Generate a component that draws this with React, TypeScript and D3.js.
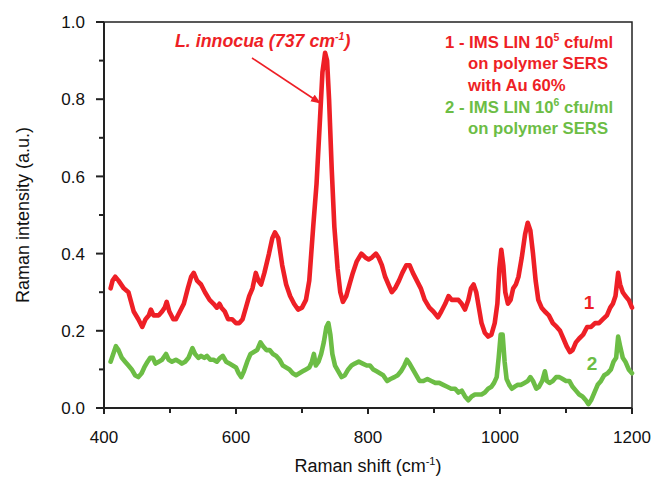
import React from "react";
import * as d3 from "d3";

const redShift = [410,413,417,422,430,437,445,452,458,463,468,471,475,483,488,492,495,499,505,509,515,521,527,532,536,541,547,553,560,566,571,575,578,583,588,594,600,605,610,615,620,625,630,634,638,643,650,655,659,664,670,676,682,688,694,700,706,711,717,722,727,731,735,738,741,745,749,754,758,762,767,772,777,783,790,796,801,806,812,816,821,826,831,836,841,847,852,858,863,868,874,880,886,893,899,906,911,917,922,927,932,937,942,947,952,956,960,964,968,972,977,982,987,992,996,999,1002,1005,1008,1012,1016,1020,1024,1028,1033,1038,1042,1046,1050,1054,1058,1063,1068,1074,1080,1086,1091,1096,1101,1106,1110,1115,1120,1126,1132,1138,1144,1150,1156,1162,1167,1171,1175,1179,1182,1186,1190,1195,1200];
const redIntensity = [0.31,0.33,0.34,0.33,0.31,0.30,0.25,0.23,0.21,0.23,0.24,0.255,0.24,0.24,0.25,0.26,0.275,0.25,0.23,0.23,0.25,0.27,0.31,0.34,0.35,0.33,0.32,0.30,0.28,0.27,0.26,0.27,0.26,0.25,0.23,0.23,0.22,0.22,0.23,0.26,0.29,0.31,0.35,0.33,0.32,0.35,0.40,0.44,0.455,0.44,0.37,0.32,0.29,0.27,0.255,0.26,0.28,0.33,0.47,0.58,0.74,0.87,0.92,0.90,0.80,0.62,0.47,0.36,0.30,0.275,0.29,0.32,0.35,0.38,0.40,0.39,0.385,0.39,0.40,0.39,0.37,0.34,0.32,0.30,0.31,0.33,0.35,0.37,0.37,0.35,0.33,0.31,0.28,0.26,0.25,0.235,0.25,0.27,0.29,0.28,0.28,0.28,0.27,0.255,0.28,0.31,0.32,0.30,0.26,0.22,0.195,0.185,0.19,0.22,0.27,0.36,0.41,0.37,0.30,0.27,0.28,0.31,0.32,0.34,0.39,0.45,0.48,0.46,0.40,0.33,0.28,0.26,0.25,0.24,0.22,0.21,0.20,0.18,0.16,0.145,0.15,0.17,0.18,0.19,0.21,0.21,0.22,0.22,0.23,0.24,0.26,0.27,0.29,0.35,0.32,0.30,0.29,0.28,0.26];

const greenShift = [410,414,418,422,427,432,437,442,447,452,457,461,466,470,474,478,483,488,494,498,503,509,514,518,523,528,534,538,543,547,552,556,561,566,571,576,580,585,590,595,600,604,608,612,617,622,627,632,637,641,646,651,656,661,666,671,676,681,686,691,696,701,706,711,715,718,721,725,729,733,737,740,743,746,750,755,760,765,770,775,780,786,792,798,803,808,813,818,823,829,834,840,845,850,855,859,863,868,873,878,884,890,896,902,908,914,920,926,932,937,942,947,952,957,962,967,972,977,982,987,991,995,998,1001,1004,1007,1010,1014,1018,1022,1027,1032,1037,1042,1046,1050,1055,1059,1064,1068,1071,1075,1080,1085,1090,1095,1100,1105,1110,1115,1120,1125,1130,1134,1138,1143,1148,1153,1158,1163,1168,1172,1176,1179,1182,1186,1190,1195,1200];
const greenIntensity = [0.12,0.14,0.16,0.15,0.13,0.12,0.11,0.10,0.085,0.08,0.09,0.105,0.12,0.13,0.13,0.115,0.12,0.125,0.14,0.125,0.12,0.125,0.12,0.115,0.12,0.13,0.155,0.14,0.13,0.135,0.13,0.135,0.125,0.125,0.12,0.13,0.135,0.12,0.115,0.11,0.105,0.09,0.08,0.095,0.12,0.14,0.145,0.15,0.17,0.16,0.15,0.15,0.14,0.135,0.125,0.11,0.105,0.10,0.09,0.085,0.09,0.095,0.10,0.105,0.12,0.14,0.11,0.12,0.14,0.17,0.21,0.22,0.19,0.14,0.11,0.095,0.08,0.085,0.10,0.11,0.115,0.12,0.115,0.11,0.11,0.10,0.095,0.09,0.085,0.07,0.075,0.08,0.085,0.095,0.11,0.125,0.115,0.10,0.085,0.07,0.07,0.075,0.07,0.065,0.065,0.06,0.055,0.05,0.05,0.04,0.045,0.03,0.02,0.03,0.035,0.035,0.035,0.04,0.05,0.055,0.065,0.08,0.13,0.19,0.19,0.12,0.075,0.06,0.05,0.055,0.06,0.06,0.065,0.07,0.08,0.07,0.05,0.055,0.07,0.095,0.07,0.065,0.07,0.08,0.08,0.075,0.07,0.07,0.055,0.045,0.035,0.03,0.02,0.01,0.02,0.04,0.06,0.07,0.085,0.09,0.10,0.12,0.13,0.185,0.16,0.13,0.12,0.10,0.09];

const xMajorTicks = [400, 600, 800, 1000, 1200];
const xMinorTicks = [500, 700, 900, 1100];
const yMajorTicks = [0, 0.2, 0.4, 0.6, 0.8, 1.0];
const yMinorTicks = [0.1, 0.3, 0.5, 0.7, 0.9];

const RED = "#ee1f26";
const GREEN = "#6cbd45";

export default function App() {
  const W = 656, H = 479;
  const left = 104, right = 632, top = 22, bottom = 408;
  const x = d3.scaleLinear().domain([400, 1200]).range([left, right]);
  const y = d3.scaleLinear().domain([0, 1]).range([bottom, top]);
  const line = d3.line<[number, number]>().x(d => x(d[0])).y(d => y(d[1])).curve(d3.curveLinear);
  const redPts = redShift.map((s, i) => [s, redIntensity[i]] as [number, number]);
  const greenPts = greenShift.map((s, i) => [s, greenIntensity[i]] as [number, number]);
  const fmt = d3.format(".1f");
  const font = "Liberation Sans, Arial, sans-serif";

  return (
    <svg width={W} height={H} style={{ position: "absolute", left: 0, top: 0, background: "#fff" }} fontFamily={font}>
      <defs>
        <marker id="arrowhead" markerWidth="10" markerHeight="8" refX="9" refY="4" orient="auto" markerUnits="userSpaceOnUse">
          <path d="M0,0 L10,4 L0,8 Z" fill={RED} />
        </marker>
      </defs>
      {/* frame */}
      <rect x={left} y={top} width={right - left} height={bottom - top} fill="none" stroke="#222" strokeWidth={1.5} />
      <line x1={left} x2={left} y1={top} y2={bottom} stroke="#222" strokeWidth={2} />
      <line x1={left} x2={right} y1={bottom} y2={bottom} stroke="#222" strokeWidth={2} />

      {/* data */}
      <path d={line(greenPts) || ""} fill="none" stroke={GREEN} strokeWidth={4.6} strokeLinejoin="round" strokeLinecap="round" />
      <path d={line(redPts) || ""} fill="none" stroke={RED} strokeWidth={4.6} strokeLinejoin="round" strokeLinecap="round" />

      {/* y ticks */}
      {yMajorTicks.map(t => (
        <g key={"ym" + t}>
          <line x1={left - 8} x2={left} y1={y(t)} y2={y(t)} stroke="#222" strokeWidth={2} />
          <text x={left - 19} y={y(t)} dy="0.36em" textAnchor="end" fontSize={17} fill="#111">{fmt(t)}</text>
        </g>
      ))}
      {yMinorTicks.map(t => (
        <line key={"yn" + t} x1={left - 5} x2={left} y1={y(t)} y2={y(t)} stroke="#222" strokeWidth={2} />
      ))}
      {/* x ticks */}
      {xMajorTicks.map(t => (
        <g key={"xm" + t}>
          <line x1={x(t)} x2={x(t)} y1={bottom} y2={bottom + 6} stroke="#222" strokeWidth={2} />
          <text x={x(t)} y={443} textAnchor="middle" fontSize={17} fill="#111">{t}</text>
        </g>
      ))}
      {xMinorTicks.map(t => (
        <line key={"xn" + t} x1={x(t)} x2={x(t)} y1={bottom} y2={bottom + 5} stroke="#222" strokeWidth={2} />
      ))}

      {/* axis titles */}
      <text x={(left + right) / 2} y={472} textAnchor="middle" fontSize={18} fill="#111">
        Raman shift (cm<tspan dy={-7} fontSize={11}>-1</tspan><tspan dy={7}>)</tspan>
      </text>
      <text transform={`translate(29,${(top + bottom) / 2}) rotate(-90)`} textAnchor="middle" fontSize={18} fill="#111">
        Raman intensity (a.u.)
      </text>

      {/* annotation */}
      <text x={175} y={47} fontSize={17.8} fontWeight="bold" fontStyle="italic" fill={RED}>
        L. innocua (737 cm<tspan dy={-7} fontSize={10.5}>-1</tspan><tspan dy={7}>)</tspan>
      </text>
      <line x1={252} y1={58} x2={320} y2={103} stroke={RED} strokeWidth={1.6} markerEnd="url(#arrowhead)" />

      {/* legend */}
      <g fontSize={16.7} fontWeight="bold">
        <text x={445} y={48} fill={RED}>1 - IMS LIN 10<tspan dy={-7} fontSize={10.5}>5</tspan><tspan dy={7}> cfu/ml</tspan></text>
        <text x={468} y={69} fill={RED}>on polymer SERS</text>
        <text x={468} y={91} fill={RED}>with Au 60%</text>
        <text x={445} y={113} fill={GREEN}>2 - IMS LIN 10<tspan dy={-7} fontSize={10.5}>6</tspan><tspan dy={7}> cfu/ml</tspan></text>
        <text x={468} y={134} fill={GREEN}>on polymer SERS</text>
      </g>

      {/* series labels */}
      <text x={589} y={309} textAnchor="middle" fontSize={19} fontWeight="bold" fill={RED}>1</text>
      <text x={592} y={370} textAnchor="middle" fontSize={19} fontWeight="bold" fill={GREEN}>2</text>
    </svg>
  );
}
